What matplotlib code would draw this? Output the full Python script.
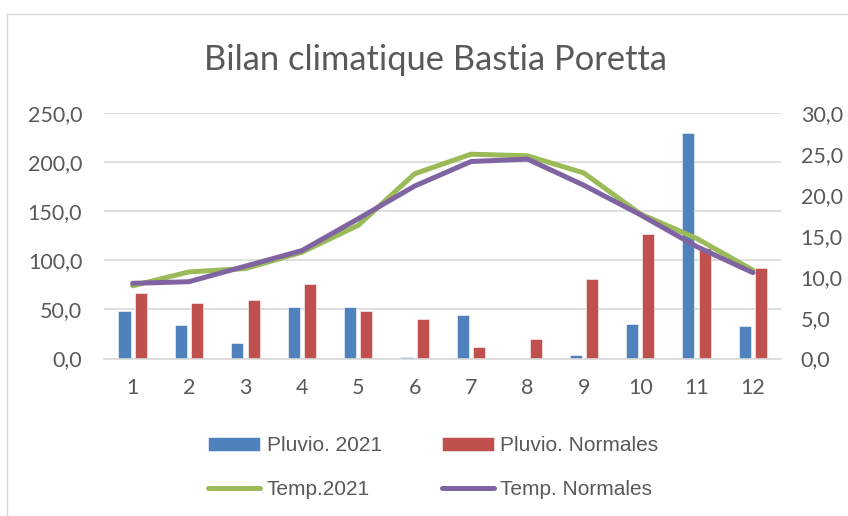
import matplotlib
matplotlib.use('Agg')
import matplotlib.pyplot as plt
from matplotlib.ticker import FuncFormatter
from matplotlib.lines import Line2D
import numpy as np

months = [1, 2, 3, 4, 5, 6, 7, 8, 9, 10, 11, 12]
pluvio_2021 = [48.6, 33.7, 15.6, 52.7, 52.4, 1.7, 44.2, 0.5, 3.4, 35.3, 229.9, 33.3]
pluvio_norm = [67.0, 56.4, 59.2, 75.8, 48.3, 40.1, 11.8, 20.0, 80.6, 126.5, 112.6, 92.4]
temp_2021 = [8.9, 10.6, 11.0, 13.0, 16.3, 22.6, 25.0, 24.8, 22.7, 17.7, 14.7, 10.8]
temp_norm = [9.2, 9.4, 11.3, 13.2, 17.1, 21.1, 24.1, 24.4, 21.2, 17.6, 13.7, 10.5]

BLUE = '#4F81BD'
RED = '#C0504D'
GREEN = '#9BBB59'
PURPLE = '#8064A2'
GREY = '#595959'

fig = plt.figure(figsize=(8.48, 5.16), dpi=100)
ax = fig.add_axes([0.1232, 0.3052, 0.798, 0.4752])
ax2 = ax.twinx()

x = np.array(months)
w = 0.215
off = 0.145
b1 = ax.bar(x - off, pluvio_2021, w, color=BLUE, edgecolor='white', linewidth=0.4, zorder=2)
b2 = ax.bar(x + off, pluvio_norm, w, color=RED, edgecolor='white', linewidth=0.4, zorder=2)
l1, = ax2.plot(x, temp_2021, color=GREEN, lw=3.6, solid_capstyle='round')
l2, = ax2.plot(x, temp_norm, color=PURPLE, lw=3.6, solid_capstyle='round')

ax.set_xlim(0.5, 12.5)
ax.set_ylim(0, 250)
ax2.set_ylim(0, 30)
ax.set_yticks(np.arange(0, 251, 50))
ax2.set_yticks(np.arange(0, 31, 5))
ax.set_xticks(months)
fmt = FuncFormatter(lambda v, p: ('%.1f' % v).replace('.', ','))
ax.yaxis.set_major_formatter(fmt)
ax2.yaxis.set_major_formatter(fmt)

ax.grid(axis='y', color='#d9d9d9', lw=1.2, zorder=0)
ax.set_axisbelow(True)
for a in (ax, ax2):
    for s in a.spines.values():
        s.set_visible(False)
ax.spines['bottom'].set_visible(True)
ax.spines['bottom'].set_color('#d9d9d9')
ax.spines['bottom'].set_linewidth(1.2)

ax.tick_params(axis='y', length=0, pad=16, labelsize=15.5, labelcolor=GREY)
ax2.tick_params(axis='y', length=0, pad=14, labelsize=15.5, labelcolor=GREY)
ax.tick_params(axis='x', length=0, pad=14, labelsize=15.5, labelcolor=GREY)
for lab in ax.get_xticklabels() + ax.get_yticklabels() + ax2.get_yticklabels():
    lab.set_fontfamily('Lato')

fig.text(435 / 848, 0.8643, 'Bilan climatique Bastia Poretta', ha='center', va='baseline',
         fontsize=24.8, color=GREY, family='Lato')

leg = fig.legend([b1, l1, b2, l2],
                 ['Pluvio. 2021', 'Temp.2021', 'Pluvio. Normales', 'Temp. Normales'],
                 ncol=2, loc='upper left', bbox_to_anchor=(0.2456, 0.1545),
                 frameon=False, prop={'family': 'Liberation Sans', 'size': 15},
                 handlelength=2.5, handletextpad=0.3, columnspacing=2.9, labelspacing=1.2,
                 borderaxespad=0, borderpad=0)
for t in leg.get_texts():
    t.set_color(GREY)

fig.add_artist(Line2D([6.5 / 848, 6.5 / 848], [0, 502 / 516], transform=fig.transFigure, color='#d9d9d9', lw=1))
fig.add_artist(Line2D([6.5 / 848, 1], [502 / 516, 502 / 516], transform=fig.transFigure, color='#d9d9d9', lw=1))

fig.savefig('out.png', dpi=100)
